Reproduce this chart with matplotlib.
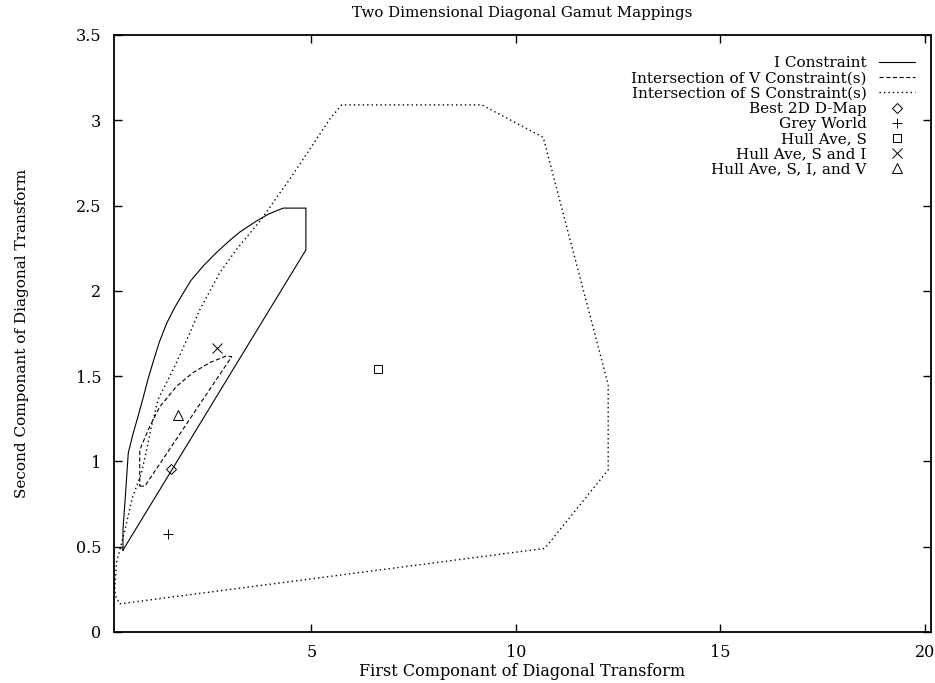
import matplotlib
matplotlib.use('Agg')
from matplotlib import pyplot as plt
from matplotlib.ticker import FormatStrFormatter

plt.rcParams['font.family'] = ['DejaVu Serif']

# I constraint (solid outline)
i_x = [0.39, 4.865, 4.865, 4.31, 3.95, 3.66, 3.25, 3.0, 2.68, 2.35, 2.05, 1.86, 1.65, 1.46, 1.28,
       1.13, 1.0, 0.88, 0.76, 0.64, 0.52, 0.45, 0.39, 0.39]
i_y = [0.48, 2.24, 2.485, 2.485, 2.45, 2.41, 2.345, 2.295, 2.225, 2.145, 2.06, 1.985, 1.90, 1.81, 1.70,
       1.585, 1.48, 1.37, 1.265, 1.165, 1.05, 0.80, 0.60, 0.48]

# intersection of V constraints (dashed outline)
v_x = [0.80, 0.925, 3.05, 2.92, 2.52, 2.10, 1.70, 1.29, 1.05, 0.84, 0.80, 0.80]
v_y = [0.855, 0.855, 1.614, 1.618, 1.58, 1.52, 1.44, 1.32, 1.207, 1.09, 1.06, 0.855]

# intersection of S constraints (dotted outline)
s_x = [0.31, 10.71, 12.26, 12.26, 10.67, 9.17, 5.74, 5.45, 4.96, 4.47, 4.07, 3.78, 3.17, 2.76, 2.52,
       2.27, 2.03, 1.70, 1.41, 1.25, 1.09, 0.97, 0.84, 0.62, 0.44, 0.23, 0.19, 0.21, 0.31]
s_y = [0.165, 0.49, 0.95, 1.45, 2.90, 3.09, 3.09, 3.007, 2.83, 2.655, 2.52, 2.42, 2.244, 2.107, 2.0,
       1.89, 1.755, 1.58, 1.44, 1.364, 1.207, 1.07, 0.93, 0.787, 0.60, 0.405, 0.25, 0.21, 0.165]

# single estimates
best_2d = (1.57, 0.957)
grey_world = (1.50, 0.572)
hull_s = (6.64, 1.544)
hull_si = (2.69, 1.667)
hull_siv = (1.73, 1.27)

x_ticks = [5, 10, 15, 20]
y_ticks = [0, 0.5, 1, 1.5, 2, 2.5, 3, 3.5]

fig = plt.figure(figsize=(9.35, 6.83), dpi=100)
ax = fig.add_axes([0.1219, 0.0747, 0.8735, 0.8741])

ax.plot(i_x, i_y, color='black', lw=0.8, label='I Constraint')
ax.plot(v_x, v_y, color='black', lw=0.8, dashes=(3.8, 2.2), label='Intersection of V Constraint(s)')
ax.plot(s_x, s_y, color='black', lw=1.0, dashes=(1.0, 2.2), label='Intersection of S Constraint(s)')

mk = dict(color='black', lw=0, markerfacecolor='none', markeredgewidth=0.7)
ax.plot([best_2d[0]], [best_2d[1]], marker='D', markersize=5, label='Best 2D D-Map', **mk)
ax.plot([grey_world[0]], [grey_world[1]], marker='+', markersize=7, label='Grey World', **mk)
ax.plot([hull_s[0]], [hull_s[1]], marker='s', markersize=6, label='Hull Ave, S', **mk)
ax.plot([hull_si[0]], [hull_si[1]], marker='x', markersize=7, label='Hull Ave, S and I', **mk)
ax.plot([hull_siv[0]], [hull_siv[1]], marker='^', markersize=7, label='Hull Ave, S, I, and V', **mk)

ax.set_xlim(0.17, 20.15)
ax.set_ylim(0, 3.5)
ax.set_xticks(x_ticks)
ax.set_yticks(y_ticks)
ax.yaxis.set_major_formatter(FormatStrFormatter('%g'))
ax.tick_params(direction='in', length=6, width=1, top=True, right=True, labelsize=11.5, pad=9)
for sp in ax.spines.values():
    sp.set_linewidth(1.3)

ax.set_title('Two Dimensional Diagonal Gamut Mappings', fontsize=10.8, pad=13)
ax.set_xlabel('First Componant of Diagonal Transform', fontsize=11.5, labelpad=1)
ax.set_ylabel('Second Componant of Diagonal Transform', fontsize=11, labelpad=34)

ax.legend(loc='upper right', frameon=False, markerfirst=False, fontsize=11,
          handlelength=2.4, labelspacing=0.08, handletextpad=0.8,
          borderaxespad=0.6, bbox_to_anchor=(1.0, 0.99))

plt.savefig('out.png', dpi=100)
